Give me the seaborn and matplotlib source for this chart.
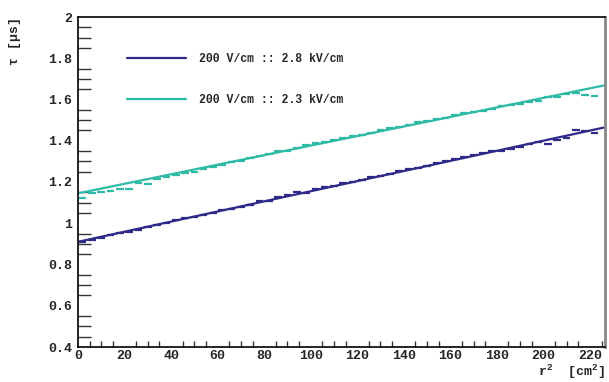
import numpy as np
import pandas as pd
import matplotlib
matplotlib.use("Agg")
import matplotlib.pyplot as plt
import seaborn as sns
from matplotlib.ticker import MultipleLocator
from matplotlib.lines import Line2D

# ---- data ----
r2_bins = [2, 6, 10, 14, 18, 22, 26, 30, 34, 38, 42, 46, 50, 54, 58, 62, 66, 70, 74, 78,
           82, 86, 90, 94, 98, 102, 106, 110, 114, 118, 122, 126, 130, 134, 138, 142, 146,
           150, 154, 158, 162, 166, 170, 174, 178, 182, 186, 190, 194, 198, 202, 206, 210,
           214, 218, 222]
tau_28 = [0.910, 0.920, 0.928, 0.945, 0.952, 0.960, 0.968, 0.980, 0.990, 1.000, 1.015,
          1.025, 1.030, 1.040, 1.050, 1.065, 1.070, 1.080, 1.088, 1.108, 1.110, 1.128,
          1.135, 1.150, 1.148, 1.165, 1.175, 1.180, 1.195, 1.200, 1.210, 1.222, 1.228,
          1.240, 1.255, 1.262, 1.270, 1.280, 1.290, 1.300, 1.310, 1.320, 1.330, 1.340,
          1.348, 1.352, 1.362, 1.372, 1.382, 1.392, 1.383, 1.405, 1.415, 1.451, 1.445,
          1.437]
tau_23 = [1.122, 1.145, 1.150, 1.155, 1.165, 1.165, 1.195, 1.190, 1.215, 1.225, 1.235,
          1.245, 1.250, 1.262, 1.275, 1.282, 1.295, 1.300, 1.315, 1.325, 1.335, 1.348,
          1.352, 1.365, 1.380, 1.390, 1.395, 1.405, 1.412, 1.425, 1.430, 1.440, 1.450,
          1.460, 1.465, 1.475, 1.490, 1.495, 1.505, 1.510, 1.525, 1.535, 1.540, 1.545,
          1.555, 1.570, 1.575, 1.580, 1.590, 1.595, 1.610, 1.610, 1.625, 1.630, 1.620,
          1.615]
fit_x = [0, 226]
fit_28 = [0.910, 1.464]
fit_23 = [1.145, 1.668]

labels = ["200 V/cm :: 2.8 kV/cm", "200 V/cm :: 2.3 kV/cm"]
colors = ["#2f2a88", "#2fbaa6"]

x_ticks = [0, 20, 40, 60, 80, 100, 120, 140, 160, 180, 200, 220]
y_ticks = [0.4, 0.6, 0.8, 1.0, 1.2, 1.4, 1.6, 1.8, 2.0]
y_tick_labels = ["0.4", "0.6", "0.8", "1", "1.2", "1.4", "1.6", "1.8", "2"]

# ---- figure ----
sns.set_style("white")
plt.rcParams['font.family'] = ['Liberation Mono', 'DejaVu Sans']
plt.rcParams['font.weight'] = 'bold'
plt.rcParams['mathtext.fontset'] = 'custom'
plt.rcParams['mathtext.rm'] = 'Liberation Mono:bold'
plt.rcParams['mathtext.it'] = 'Liberation Mono:bold'
plt.rcParams['mathtext.bf'] = 'Liberation Mono:bold'

fig = plt.figure(figsize=(6.09, 3.82), dpi=100)
ax = fig.add_axes([78 / 609, 1 - 347 / 382, (605 - 78) / 609, (347 - 17) / 382])

data = pd.DataFrame({
    "r2": r2_bins * 2,
    "tau": tau_28 + tau_23,
    "set": [labels[0]] * len(r2_bins) + [labels[1]] * len(r2_bins),
})
fits = pd.DataFrame({
    "r2": fit_x * 2,
    "tau": fit_28 + fit_23,
    "set": [labels[0]] * 2 + [labels[1]] * 2,
})

sns.scatterplot(data=data, x="r2", y="tau", hue="set", palette=colors, marker="_",
                s=30, linewidth=1.6, ax=ax, legend=False)
sns.lineplot(data=fits, x="r2", y="tau", hue="set", palette=colors, linewidth=1.6,
             ax=ax, legend=False)

ax.set_xlim(0, 226.5)
ax.set_ylim(0.4, 2.0)
ax.set_xticks(x_ticks)
ax.set_xticklabels([str(v) for v in x_ticks])
ax.set_yticks(y_ticks)
ax.set_yticklabels(y_tick_labels)
ax.xaxis.set_minor_locator(MultipleLocator(5))
ax.yaxis.set_minor_locator(MultipleLocator(0.05))
ax.tick_params(axis="x", which="major", direction="in", length=8, width=1, color="#333333",
               labelsize=9.5, pad=2)
ax.tick_params(axis="x", which="minor", direction="in", length=4, width=1, color="#333333",
               bottom=True)
ax.tick_params(axis="y", which="major", direction="in", length=17, width=1, color="#555555",
               labelsize=9.5, pad=4)
ax.tick_params(axis="y", which="minor", direction="in", length=9, width=1, color="#333333",
               left=True)
for lab in ax.get_xticklabels() + ax.get_yticklabels():
    lab.set_fontweight("bold")

for side in ["left", "bottom", "top"]:
    ax.spines[side].set_color("black")
    ax.spines[side].set_linewidth(1.2)
ax.spines["right"].set_color("#888888")
ax.spines["right"].set_linewidth(2)

ax.set_xlabel("r$^{2}$  [cm$^{2}$]", loc="right", fontsize=9.5,
              fontweight="bold", labelpad=1)
ax.set_ylabel("τ [μs]", loc="top", fontsize=9.5, fontweight="bold", labelpad=20)

# legend
handles = [Line2D([], [], color=c, linewidth=1.6) for c in colors]
leg = ax.legend(handles, labels, loc="upper left", bbox_to_anchor=(0.074, 0.922),
                frameon=False, handlelength=5.1, handletextpad=1.1, labelspacing=2.5,
                prop={"family": "Liberation Mono", "weight": "bold", "size": 8.3})

fig.savefig("out.png", dpi=100)
